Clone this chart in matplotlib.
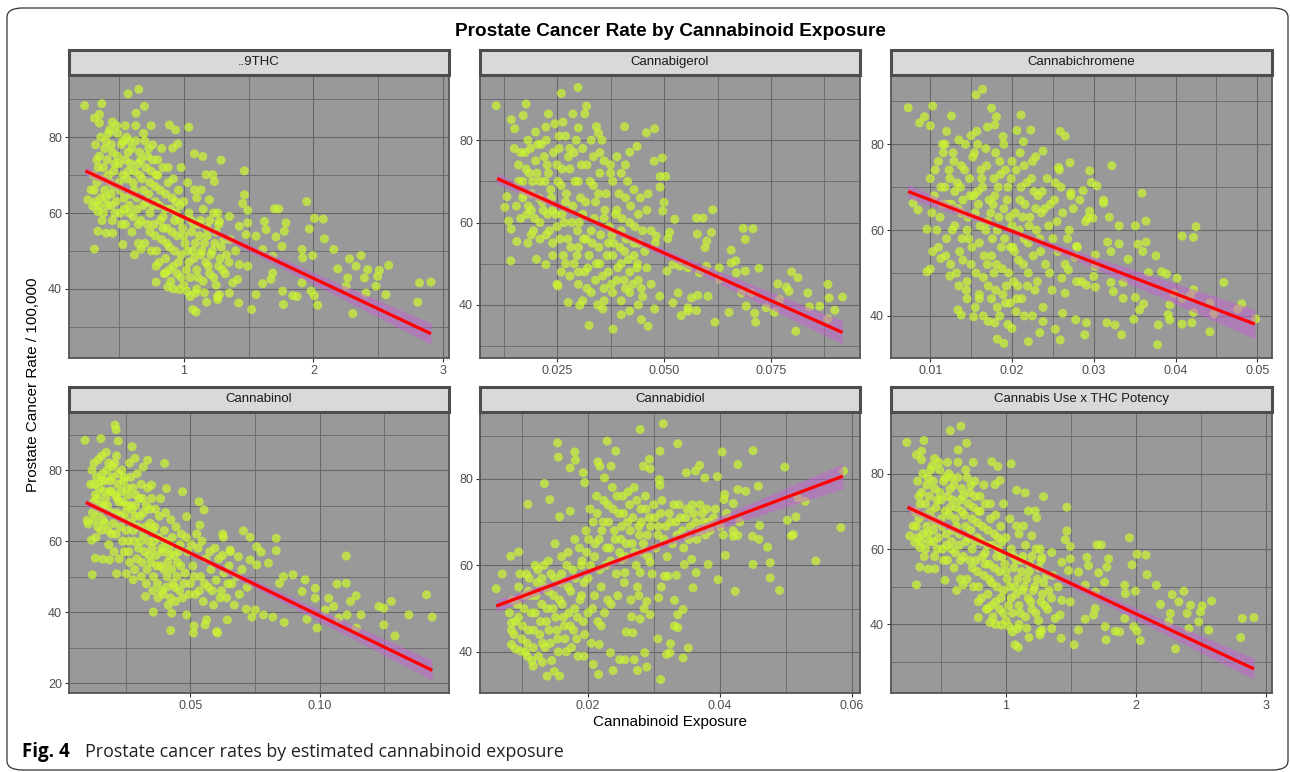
import numpy as np
import matplotlib.pyplot as plt
from matplotlib.patches import Rectangle, FancyBboxPatch

plt.rcParams['font.family'] = ['Liberation Sans', 'DejaVu Sans']

# ---- datos ----
paneles = ['..9THC', 'Cannabigerol', 'Cannabichromene',
           'Cannabinol', 'Cannabidiol', 'Cannabis Use x THC Potency']

thc_x = [0.236, 0.368, 0.571, 0.653, 0.697, 0.632, 0.311, 0.35, 0.483, 0.748, 0.89, 0.937, 1.039, 0.954, 0.915,
         1.082, 1.147, 1.288, 1.468, 1.172, 1.224, 1.236, 1.082, 1.134, 1.198, 1.468, 1.455, 1.494, 1.352, 1.262,
         1.275, 1.429, 1.494, 1.622, 1.699, 1.733, 1.789, 1.635, 1.712, 1.776, 1.558, 1.481, 1.949, 2.008, 2.077,
         1.969, 2.085, 2.157, 1.913, 1.995, 1.758, 1.609, 1.686, 1.918, 2.278, 2.368, 2.188, 2.329, 2.419, 2.509,
         2.581, 2.496, 2.265, 2.393, 2.483, 2.406, 2.56, 2.304, 2.805, 2.818, 2.907, 2.252, 2.033, 2.008, 1.982,
         1.913, 1.841, 1.874, 1.763, 1.769, 1.686, 1.673, 1.609, 1.558, 1.524, 1.424, 1.429, 1.494, 1.416, 1.378,
         1.352, 1.275, 1.262, 1.177, 1.095, 1.069, 1.09, 1.026, 0.967, 0.877, 0.787, 0.787, 0.859, 0.311, 0.337,
         0.401, 0.452, 0.53, 0.62, 0.671, 0.285, 0.26, 0.298, 0.337,
         0.32, 0.35, 0.38, 0.40, 0.42, 0.45, 0.47, 0.50, 0.52, 0.55, 0.57, 0.60, 0.62, 0.65, 0.68, 0.70, 0.72, 0.75,
         0.78, 0.80, 0.33, 0.36, 0.39, 0.41, 0.44, 0.48, 0.51, 0.54, 0.58, 0.61, 0.64, 0.67, 0.71, 0.74, 0.77, 0.81,
         0.84, 0.87, 0.90, 0.93, 0.36, 0.43, 0.49, 0.56, 0.63, 0.69, 0.76, 0.83, 0.88, 0.92, 0.96, 1.00, 1.04, 1.08,
         1.12, 0.98, 1.03, 1.10, 1.15, 1.20, 0.70, 0.74, 0.79, 0.83, 0.86, 0.89, 0.92, 0.95, 0.98, 1.01, 1.04, 1.07,
         1.10, 1.13, 1.16, 1.19, 1.22, 1.25, 1.28, 1.31, 0.85, 0.90, 0.95, 1.00, 1.05, 1.10, 1.15, 1.20, 1.25, 1.30,
         1.35, 1.40, 1.18, 1.23, 1.27, 0.60, 0.65, 0.55, 0.45, 0.38, 0.46, 0.53, 0.59, 0.66, 0.73, 0.79, 0.86, 0.34,
         0.41, 0.58, 0.50, 0.44, 0.62, 0.69, 0.76, 0.82, 0.94, 0.99, 1.06, 1.13]
thc_y = [88.3, 88.8, 91.4, 92.6, 88.1, 86.3, 85, 83.7, 83, 83, 83.2, 81.9, 82.6, 78.2, 77.1, 75.6, 74.9, 73.9, 71.1,
         70.1, 70.1, 68.3, 66.1, 66.1, 63.5, 64.8, 62.5, 60.7, 59.1, 60, 57.8, 56.5, 57.4, 57.8, 61.1, 61.1, 57.4,
         55.6, 53.7, 55.2, 53.9, 54.3, 63, 58.6, 58.4, 55.8, 53.2, 50.4, 50.4, 48.8, 51.2, 50.4, 48.6, 48.2, 47.9,
         48.8, 45.3, 46, 45.1, 44.9, 46.2, 43.3, 42.9, 42.9, 40.7, 38.9, 38.5, 33.5, 36.5, 41.6, 41.8, 40.7, 35.7,
         38.2, 39.4, 41.6, 38.2, 38, 39.4, 35.9, 44.2, 42.5, 41.4, 38.5, 34.6, 36.3, 46.4, 46, 42.5, 41.6, 38.9,
         38.5, 37.2, 36.5, 33.9, 34.6, 38.9, 39.4, 39.8, 40.5, 41.8, 46, 44.2, 50.5, 55.2, 54.7, 54.7, 51.7, 49,
         50.5, 66.1, 63.5, 61.8, 60.4,
         78, 75, 72, 79, 70, 76, 73, 68, 78, 74, 71, 77, 66, 73, 69, 79, 75, 71, 67, 74, 68, 64, 66, 62, 65, 63, 60,
         64, 62, 59, 61, 58, 63, 60, 57, 62, 59, 56, 61, 58, 80, 82, 81, 80, 83, 81, 78, 77, 72, 69, 66, 63, 60, 57,
         54, 72, 68, 64, 61, 58, 52, 55, 50, 53, 48, 51, 46, 54, 49, 52, 47, 50, 45, 49, 52, 46, 50, 55, 48, 53, 44,
         42, 44, 41, 43, 40, 42, 44, 41, 45, 47, 50, 56, 60, 57, 55, 52, 57, 58, 60, 67, 70, 65, 76, 65, 70, 65, 72,
         74, 79, 73, 78, 71, 62, 62, 58, 63, 56, 58, 58]
# nucleo denso (zona casi solida del grafico)
thc_x_nucleo = [0.30, 0.31, 0.33, 0.35, 0.37, 0.39, 0.40, 0.42, 0.43, 0.46, 0.47, 0.49, 0.51, 0.53, 0.54, 0.56,
                0.57, 0.59, 0.61, 0.63, 0.64, 0.66, 0.67, 0.69, 0.71, 0.73, 0.74, 0.76, 0.78, 0.80, 0.82, 0.84,
                0.86, 0.88, 0.91, 0.94, 0.97, 0.35, 0.45, 0.55, 0.32, 0.37, 0.44, 0.52, 0.58, 0.65,
                0.72, 0.75, 0.78, 0.81, 0.84, 0.87, 0.89, 0.91, 0.93, 0.96, 0.97, 1.00, 1.02, 1.03, 1.06, 1.08,
                1.09, 1.11, 1.12, 1.14, 1.17, 1.18, 1.21, 1.23, 1.24, 1.27, 1.29, 1.32, 1.33, 1.36, 0.92, 0.98,
                1.05, 1.16, 1.26]
thc_y_nucleo = [70, 66, 74, 62, 69, 77, 64, 81, 68, 71, 60, 75, 66, 79, 61, 69, 76, 73, 68, 79, 64, 70, 74, 66,
                72, 77, 68, 74, 63, 70, 66, 72, 61, 68, 64, 60, 62, 86, 84, 83, 63, 58, 62, 57, 60, 57,
                57, 50, 54, 47, 56, 52, 45, 55, 50, 47, 58, 54, 45, 50, 55, 48, 52, 43, 57, 50, 47, 54, 49, 43,
                52, 46, 51, 44, 49, 53, 40, 43, 38, 39, 38]

cbg_x = [0.0108, 0.0178, 0.026, 0.0299, 0.0319, 0.0315, 0.0287, 0.023, 0.0171, 0.0143, 0.0151, 0.0224, 0.0264,
         0.0342, 0.0347, 0.0408, 0.0459, 0.0478, 0.0437, 0.042, 0.0477, 0.0496, 0.0491, 0.0504, 0.0491, 0.0463,
         0.05, 0.0497, 0.0525, 0.0576, 0.0591, 0.0614, 0.0611, 0.0578, 0.06, 0.0596, 0.0513, 0.0509, 0.0482,
         0.0685, 0.0708, 0.069, 0.0657, 0.0668, 0.0657, 0.0722, 0.069, 0.0669, 0.0629, 0.0599, 0.0583, 0.0556,
         0.0537, 0.0521, 0.0507, 0.0798, 0.0813, 0.0766, 0.0786, 0.0792, 0.0836, 0.0883, 0.0886, 0.0917, 0.0899,
         0.0864, 0.084, 0.0883, 0.0808, 0.0758, 0.077, 0.0739, 0.0712, 0.0714, 0.0704, 0.0681, 0.0692, 0.0652,
         0.0619, 0.0629, 0.0603, 0.0579, 0.0564, 0.0556, 0.054, 0.0576, 0.0556, 0.0521, 0.0533, 0.049, 0.0478,
         0.0463, 0.0447, 0.042, 0.04, 0.0381, 0.0325, 0.0357, 0.0303, 0.0276, 0.0252, 0.0142, 0.0156, 0.0182,
         0.0202, 0.0224, 0.0133, 0.0137, 0.0143, 0.0128,
         0.015, 0.016, 0.017, 0.0175, 0.0185, 0.019, 0.02, 0.0205, 0.021, 0.0215, 0.022, 0.023, 0.0235, 0.024,
         0.025, 0.0255, 0.026, 0.027, 0.028, 0.0285, 0.029, 0.03, 0.0305, 0.031, 0.032, 0.033, 0.0335, 0.034,
         0.035, 0.036, 0.0365, 0.037, 0.038, 0.039, 0.04, 0.041, 0.042, 0.043, 0.044, 0.045, 0.0155, 0.0165,
         0.018, 0.0195, 0.021, 0.0225, 0.024, 0.025, 0.0265, 0.0275, 0.029, 0.03, 0.0315, 0.0325, 0.034, 0.035,
         0.036, 0.037, 0.038, 0.039, 0.04, 0.041, 0.042, 0.043, 0.044, 0.045, 0.046, 0.047, 0.03, 0.031, 0.033,
         0.028, 0.026, 0.025, 0.0345, 0.036, 0.038, 0.04, 0.042, 0.044, 0.017, 0.0182, 0.02, 0.0225, 0.0245,
         0.027, 0.0295, 0.031, 0.033, 0.035, 0.036, 0.0375, 0.039, 0.04, 0.0415, 0.043, 0.0445, 0.046, 0.047,
         0.048, 0.019, 0.0228, 0.0262, 0.0298, 0.0318, 0.0348, 0.0378, 0.0408, 0.0438, 0.0455]
cbg_y = [88.4, 88.8, 91.4, 92.8, 88.3, 86.4, 86.4, 86.4, 86, 85, 82.8, 83.2, 84.4, 83.3, 81.7, 83.3, 81.8, 82.8,
         78.5, 77.1, 74.9, 75.7, 71.2, 71.2, 68.6, 67, 64.9, 62.8, 60.8, 61.1, 61.1, 63.1, 57.6, 57.2, 55.5, 53.9,
         57.6, 56.1, 56.7, 58.6, 58.5, 55.9, 53.3, 50.7, 50.2, 48.9, 48.2, 47.8, 49, 49.4, 47.8, 49, 49.4, 49.8,
         48.2, 48, 46.6, 45.1, 44.3, 43.3, 42.9, 45, 41.7, 41.9, 38.7, 39.7, 39.5, 36.6, 33.6, 38.2, 41.3, 39.3,
         38, 35.8, 42.9, 42.9, 39.7, 38.2, 35.8, 46.2, 42.1, 42.3, 41.7, 39.3, 37.4, 38.6, 38.5, 40.5, 42.9, 42.1,
         39, 34.8, 36.4, 38.5, 37.6, 34.1, 35, 39, 39.9, 40.6, 44.6, 50.7, 55.4, 55, 51.1, 49.8, 66.3, 60.4, 58.4,
         63.7,
         78, 74, 70, 77, 72, 67, 75, 79, 70, 65, 76, 72, 68, 63, 74, 78, 69, 65, 73, 60, 77, 70, 66, 62, 74, 58, 69,
         65, 72, 61, 67, 55, 70, 63, 58, 66, 60, 55, 62, 58, 64, 61, 62, 58, 60, 57, 55, 59, 52, 56, 50, 54, 48, 52,
         46, 50, 44, 48, 52, 46, 50, 44, 48, 52, 46, 42, 49, 45, 45, 41, 43, 47, 48, 45, 40, 41, 43, 41, 43, 40, 66,
         80, 82, 80, 84, 81, 80, 78, 80, 77, 75, 74, 76, 72, 70, 68, 66, 63, 58, 55, 63, 62, 62, 58, 56, 54, 57, 53,
         50, 53]
cbg_x_nucleo = [0.016, 0.0165, 0.0172, 0.0178, 0.0183, 0.0188, 0.0193, 0.0198, 0.0203, 0.0208, 0.0213, 0.0218,
                0.0222, 0.0227, 0.0232, 0.0237, 0.0242, 0.0247, 0.0252, 0.0257, 0.0262, 0.0267, 0.0272, 0.0277,
                0.0282, 0.0287, 0.0292, 0.0297, 0.0302, 0.0307, 0.0312, 0.0317, 0.0322, 0.0327, 0.0332, 0.0337,
                0.0342, 0.0347, 0.0352, 0.0357, 0.0362, 0.0367, 0.0372, 0.0377, 0.0382, 0.0387, 0.0392, 0.0397,
                0.0402, 0.0407, 0.0412, 0.0417, 0.0422, 0.0427, 0.0432, 0.0437, 0.0442, 0.0447, 0.03, 0.032, 0.027,
                0.024, 0.021, 0.019, 0.028, 0.0255, 0.03, 0.0335, 0.0355, 0.0375, 0.0395, 0.041]
cbg_y_nucleo = [70, 77, 67, 73, 64, 78, 70, 61, 72, 66, 79, 63, 70, 74, 58, 66, 77, 62, 70, 56, 73, 60, 67, 76,
                54, 64, 70, 52, 60, 74, 56, 65, 49, 70, 55, 61, 50, 67, 57, 47, 63, 52, 59, 45, 55, 62, 49, 54,
                61, 46, 56, 51, 64, 45, 59, 49, 55, 44, 48, 44, 50, 52, 56, 57, 78, 81, 83, 76, 80, 72, 67, 74]

cbc_x = [0.0073, 0.0103, 0.0126, 0.0093, 0.0087, 0.01, 0.0156, 0.0164, 0.0175, 0.0181, 0.0179, 0.0211, 0.0206,
         0.0223, 0.0214, 0.0189, 0.0157, 0.0259, 0.0265, 0.0238, 0.0229, 0.0271, 0.0257, 0.0322, 0.0295, 0.0297,
         0.0304, 0.0272, 0.0287, 0.0312, 0.0312, 0.0283, 0.0295, 0.0299, 0.0293, 0.0319, 0.0359, 0.0364, 0.0351,
         0.0331, 0.0317, 0.0331, 0.0321, 0.0354, 0.0364, 0.036, 0.0342, 0.0376, 0.0408, 0.0422, 0.0425, 0.0279,
         0.0277, 0.0302, 0.0302, 0.03, 0.0269, 0.0261, 0.0279, 0.0291, 0.0302, 0.0265, 0.0321, 0.0336, 0.0324,
         0.0367, 0.0383, 0.0389, 0.0402, 0.0459, 0.0398, 0.0408, 0.0418, 0.0422, 0.0442, 0.0447, 0.0422, 0.0481,
         0.0476, 0.0498, 0.0393, 0.0391, 0.0393, 0.0379, 0.0408, 0.042, 0.0442, 0.0378, 0.0349, 0.0334, 0.0326,
         0.0316, 0.0356, 0.0361, 0.0351, 0.0336, 0.0291, 0.0289, 0.0278, 0.0262, 0.0259, 0.0253, 0.0234, 0.0238,
         0.022, 0.019, 0.0182, 0.0179, 0.0171, 0.0153, 0.0138, 0.0134, 0.02, 0.0096, 0.01, 0.0124, 0.0079, 0.0085,
         0.0096, 0.0103, 0.0113,
         0.01, 0.0105, 0.011, 0.0112, 0.0115, 0.0118, 0.012, 0.0123, 0.0126, 0.0128, 0.013, 0.0133, 0.0136, 0.0138,
         0.014, 0.0143, 0.0145, 0.0148, 0.015, 0.0152, 0.0155, 0.0158, 0.016, 0.0162, 0.0165, 0.0168, 0.017,
         0.0172, 0.0175, 0.0178, 0.018, 0.0182, 0.0185, 0.0188, 0.019, 0.0192, 0.0195, 0.0198, 0.02, 0.0202,
         0.0205, 0.0208, 0.021, 0.0212, 0.0215, 0.0218, 0.022, 0.0222, 0.0225, 0.0228, 0.023, 0.0232, 0.0235,
         0.0238, 0.024, 0.0243, 0.0246, 0.025, 0.0255, 0.026, 0.0265, 0.027, 0.0275, 0.028, 0.0285, 0.029, 0.0125,
         0.0135, 0.0145, 0.0155, 0.0165, 0.0175, 0.0185, 0.0195, 0.0205, 0.0215, 0.0225, 0.011, 0.0115, 0.013,
         0.0138, 0.0147, 0.0153, 0.0163, 0.0168, 0.0177, 0.0183, 0.0192, 0.0197, 0.0203, 0.0213, 0.022, 0.0227,
         0.0236, 0.0247, 0.0253, 0.0258, 0.0272, 0.012, 0.015, 0.017, 0.019, 0.021, 0.0145, 0.016, 0.0178,
         0.0193, 0.0207, 0.017, 0.0187]
cbc_y = [88.5, 88.9, 86.6, 86.4, 85, 84.3, 91.5, 92.8, 88.4, 86.4, 84.5, 86.8, 83.2, 83.3, 80.6, 81.8, 83, 83,
         81.9, 78.4, 77.1, 75.7, 74.6, 75, 73.8, 71.1, 70.3, 68.7, 69.2, 67, 66.3, 67, 64.4, 62.8, 62.8, 63, 68.6,
         62.1, 61, 61, 57.2, 56.8, 55, 56.7, 57.2, 55, 53.2, 54, 58.6, 58.3, 60.8, 56.2, 53.7, 54.2, 51.5, 49.2,
         50.7, 48.8, 48, 47.2, 46.7, 45.3, 47.8, 47.8, 45.7, 50.1, 50.3, 49.8, 48.8, 47.8, 45.3, 44.1, 44.7, 46.1,
         43, 40.5, 40.8, 42.8, 41.6, 39.3, 42.6, 40.3, 39.1, 37.9, 38.1, 38.4, 36.3, 33.3, 39.2, 35.6, 37.9, 38.4,
         41.4, 42.8, 44.3, 44.1, 38.4, 35.6, 39.1, 40.6, 34.4, 36.9, 36.1, 38.7, 34, 33.6, 34.6, 38.4, 38.7, 39.8,
         40.2, 41.4, 37.1, 50.3, 50.9, 49.3, 66.3, 64.7, 60.2, 55, 53.4,
         72, 68, 76, 63, 80, 70, 58, 74, 66, 78, 61, 71, 55, 75, 67, 80, 60, 72, 52, 77, 64, 69, 57, 74, 49, 79, 62,
         67, 54, 72, 46, 60, 76, 51, 65, 43, 70, 56, 61, 48, 74, 53, 67, 44, 58, 71, 50, 63, 76, 46, 60, 68, 55, 42,
         65, 72, 50, 58, 62, 70, 52, 60, 65, 56, 48, 62, 52, 47, 44, 42, 40, 44, 40, 38, 41, 40, 40, 56, 66, 69, 64,
         58, 68, 72, 60, 66, 70, 74, 63, 55, 63, 57, 69, 64, 66, 71, 74, 68, 83, 82, 84, 80, 78, 48, 45, 50, 47, 47,
         52, 56]
cbc_x_nucleo = [0.0102, 0.0106, 0.0108, 0.0113, 0.0116, 0.0119, 0.0121, 0.0124, 0.0127, 0.0129, 0.0132, 0.0134,
                0.0137, 0.0139, 0.0142, 0.0144, 0.0146, 0.0149, 0.0151, 0.0154, 0.0156, 0.0159, 0.0161, 0.0164,
                0.0166, 0.0169, 0.0171, 0.0174, 0.0176, 0.0179, 0.0181, 0.0184, 0.0186, 0.0189, 0.0191, 0.0194,
                0.0196, 0.0199, 0.0201, 0.0204, 0.0206, 0.0209, 0.0211, 0.0214, 0.0216, 0.0219, 0.0221, 0.0224,
                0.0226, 0.0229, 0.0231, 0.0234, 0.0237, 0.0241, 0.0245, 0.0249, 0.0252, 0.0256, 0.0262, 0.0268,
                0.0118, 0.0135, 0.0158, 0.018, 0.02, 0.0215, 0.016, 0.0182, 0.0198, 0.014]
cbc_y_nucleo = [64, 74, 60, 70, 78, 54, 66, 72, 60, 76, 50, 65, 70, 58, 74, 46, 63, 68, 56, 78, 50, 66, 61, 70,
                54, 75, 47, 64, 58, 68, 52, 63, 73, 45, 58, 67, 50, 72, 56, 64, 44, 60, 70, 52, 66, 47, 61, 72,
                54, 65, 48, 58, 69, 52, 61, 46, 67, 55, 64, 58, 80, 81, 80, 78, 76, 75, 44, 42, 43, 53]

cbn_x = [0.0093, 0.0154, 0.0209, 0.0213, 0.0221, 0.0275, 0.0286, 0.0335, 0.0401, 0.0318, 0.035, 0.0408, 0.047,
         0.0534, 0.0553, 0.0486, 0.0537, 0.0625, 0.0628, 0.0705, 0.0731, 0.0832, 0.0832, 0.0757, 0.0774, 0.0802,
         0.0757, 0.0731, 0.0654, 0.0686, 0.086, 0.0897, 0.0845, 0.0944, 0.0932, 0.0983, 0.1103, 0.1067, 0.1103,
         0.1141, 0.1119, 0.1035, 0.1054, 0.1022, 0.0983, 0.0951, 0.099, 0.1074, 0.1106, 0.116, 0.1142, 0.1229,
         0.1248, 0.1277, 0.1248, 0.1291, 0.1345, 0.1413, 0.1435, 0.0863, 0.0819, 0.0783, 0.0738, 0.0751, 0.0716,
         0.0643, 0.0602, 0.0605, 0.0563, 0.0557, 0.0514, 0.0512, 0.0486, 0.0424, 0.0428, 0.0357, 0.0327, 0.0215,
         0.0253, 0.0279, 0.0121, 0.0133, 0.0162, 0.0188, 0.0118, 0.0101, 0.0105,
         0.012, 0.013, 0.014, 0.0145, 0.015, 0.016, 0.0165, 0.017, 0.0175, 0.018, 0.019, 0.0195, 0.02, 0.021,
         0.0215, 0.022, 0.023, 0.0235, 0.024, 0.025, 0.0255, 0.026, 0.027, 0.0275, 0.028, 0.029, 0.03, 0.0305,
         0.031, 0.032, 0.033, 0.034, 0.0345, 0.035, 0.036, 0.037, 0.038, 0.039, 0.04, 0.041, 0.042, 0.043, 0.044,
         0.045, 0.046, 0.047, 0.048, 0.049, 0.05, 0.051, 0.052, 0.053, 0.054, 0.055, 0.056, 0.057, 0.058, 0.059,
         0.06, 0.061, 0.062, 0.063, 0.064, 0.065, 0.066, 0.067, 0.068, 0.069, 0.07, 0.072, 0.013, 0.0125, 0.0135,
         0.0155, 0.0185, 0.0205, 0.0225, 0.0245, 0.0265, 0.0285, 0.031, 0.033, 0.0355, 0.0375, 0.0395, 0.0415,
         0.0155, 0.0185, 0.0215, 0.0245, 0.0265, 0.0295, 0.0315, 0.0335, 0.0365, 0.0385, 0.0405, 0.0425, 0.0445,
         0.0465, 0.0485, 0.0505, 0.0525, 0.0545, 0.0575, 0.0595, 0.0625, 0.0655, 0.0165, 0.0195, 0.0225, 0.0255,
         0.0285, 0.0355]
cbn_y = [88.4, 88.9, 92.7, 91.4, 88.2, 86.6, 83.3, 82.8, 81.9, 80.9, 75.8, 74.8, 73.9, 71.1, 68.8, 66.9, 64.5, 62,
         61.1, 62.9, 61.1, 60.8, 57.3, 58.4, 56.9, 53.8, 53.3, 54.7, 57.5, 55.6, 50, 50.5, 48.1, 49.1, 45.8, 46.7,
         55.8, 47.9, 48.1, 44.6, 43, 43.9, 41.6, 40.6, 43.9, 38, 35.5, 38.3, 39.2, 39.2, 35.5, 41.6, 41.1, 43, 36.4,
         33.3, 39.2, 44.9, 38.6, 37.1, 38.6, 39.2, 38.6, 40.6, 40.8, 37.8, 34.5, 34.1, 37.8, 36.4, 36.1, 34.1, 39.2,
         34.8, 39.7, 40, 44.4, 50.8, 50.8, 49.1, 50.5, 55.2, 54.9, 54.7, 60.3, 65.9, 64.8,
         80, 76, 72, 83, 68, 79, 74, 65, 85, 70, 77, 62, 81, 73, 68, 76, 64, 80, 71, 66, 75, 60, 78, 69, 63, 73, 58,
         67, 76, 62, 70, 56, 65, 72, 60, 53, 67, 58, 63, 50, 56, 61, 47, 54, 59, 44, 51, 57, 48, 53, 45, 58, 50, 43,
         55, 47, 52, 42, 49, 55, 46, 51, 44, 53, 48, 42, 50, 45, 52, 47, 66, 71, 61, 63, 59, 57, 55, 57, 54, 52, 50,
         48, 46, 44, 45, 42, 77, 82, 84, 78, 82, 79, 72, 75, 69, 72, 68, 66, 64, 62, 61, 59, 62, 60, 57, 58, 56, 57,
         70, 74, 71, 70, 67, 63]
cbn_x_nucleo = [0.0115, 0.0122, 0.0128, 0.0133, 0.0138, 0.0142, 0.0148, 0.0153, 0.0158, 0.0162, 0.0168, 0.0173,
                0.0178, 0.0182, 0.0188, 0.0193, 0.0198, 0.0203, 0.0208, 0.0213, 0.0218, 0.0222, 0.0228, 0.0233,
                0.0238, 0.0242, 0.0248, 0.0253, 0.0258, 0.0262, 0.0268, 0.0273, 0.0278, 0.0282, 0.0288, 0.0293,
                0.0298, 0.0303, 0.0308, 0.0313, 0.0318, 0.0323, 0.0328, 0.0333, 0.0338, 0.0343, 0.0348, 0.0353,
                0.0358, 0.0363, 0.0368, 0.0373, 0.0378, 0.0383, 0.0388, 0.0393, 0.0398, 0.0403, 0.0408, 0.0413,
                0.0418, 0.0423, 0.0428, 0.0433, 0.0438, 0.0443, 0.0448, 0.0453, 0.0458, 0.0463, 0.0475, 0.0495,
                0.0515, 0.0535, 0.0555, 0.0585, 0.0615, 0.0645]
cbn_y_nucleo = [76, 68, 82, 73, 78, 64, 75, 70, 84, 66, 77, 72, 80, 63, 74, 68, 78, 65, 82, 62, 72, 79, 67, 74,
                60, 77, 68, 63, 73, 57, 70, 65, 75, 60, 70, 55, 64, 72, 60, 54, 68, 57, 64, 52, 60, 69, 54, 58,
                50, 64, 56, 48, 61, 53, 46, 57, 52, 60, 47, 54, 58, 44, 52, 48, 56, 43, 50, 57, 46, 53, 48, 45,
                50, 46, 48, 46, 44, 48]

cbd_x = [0.0061, 0.007, 0.0083, 0.0095, 0.0109, 0.0134, 0.0142, 0.0154, 0.0155, 0.0173, 0.018, 0.0181, 0.0157,
         0.0173, 0.0193, 0.0195, 0.0215, 0.0218, 0.0225, 0.0229, 0.0235, 0.0242, 0.0279, 0.0314, 0.0309, 0.0336,
         0.0284, 0.0294, 0.0293, 0.0308, 0.0309, 0.0349, 0.0363, 0.0369, 0.0377, 0.0396, 0.0403, 0.0427, 0.045,
         0.0498, 0.0458, 0.0427, 0.0439, 0.0407, 0.0406, 0.042, 0.0529, 0.0518, 0.0502, 0.0515, 0.0583, 0.0587,
         0.0508, 0.0511, 0.0545, 0.0459, 0.0472, 0.046, 0.0449, 0.0427, 0.042, 0.0476, 0.0476, 0.049, 0.045,
         0.0408, 0.0423, 0.0397, 0.0382, 0.0364, 0.0357, 0.0359, 0.0346, 0.0334, 0.0331, 0.0344, 0.0336, 0.0336,
         0.0331, 0.0352, 0.0344, 0.0324, 0.0319, 0.0325, 0.0306, 0.0311, 0.0307, 0.031, 0.0289, 0.0275, 0.0286,
         0.027, 0.0256, 0.0248, 0.0238, 0.0234, 0.0216, 0.0208, 0.0194, 0.0217, 0.0157, 0.0149, 0.0138, 0.0131,
         0.0117, 0.0108, 0.0084, 0.009, 0.0098, 0.0084, 0.0084, 0.0081, 0.0251, 0.0277, 0.0289, 0.0266, 0.0279,
         0.0258, 0.0268, 0.0294, 0.0316, 0.0321, 0.0256, 0.0279, 0.0294,
         0.0085, 0.009, 0.0095, 0.01, 0.0103, 0.0107, 0.011, 0.0113, 0.0117, 0.012, 0.0123, 0.0127, 0.013, 0.0133,
         0.0137, 0.014, 0.0143, 0.0147, 0.015, 0.0153, 0.0157, 0.016, 0.0163, 0.0167, 0.017, 0.0173, 0.0177,
         0.018, 0.0183, 0.0187, 0.019, 0.0193, 0.0197, 0.02, 0.0203, 0.0207, 0.021, 0.0213, 0.0217, 0.022, 0.0223,
         0.0227, 0.023, 0.0233, 0.0237, 0.024, 0.0243, 0.0247, 0.025, 0.0253, 0.0257, 0.026, 0.0263, 0.0267,
         0.027, 0.0273, 0.0277, 0.028, 0.0283, 0.0287, 0.029, 0.0293, 0.0297, 0.03, 0.0303, 0.0307, 0.031,
         0.0315, 0.032, 0.0325, 0.033, 0.0335, 0.034, 0.0345, 0.035, 0.0355, 0.036, 0.0365, 0.037, 0.0375, 0.038,
         0.0385, 0.039, 0.04, 0.041, 0.042, 0.043, 0.0095, 0.0105, 0.0115, 0.0125, 0.0135, 0.0145, 0.0155, 0.0165,
         0.0175, 0.0185, 0.0195, 0.0205, 0.0215, 0.0225, 0.0235, 0.0245, 0.0255, 0.0265, 0.0275, 0.0285, 0.018,
         0.019, 0.017, 0.016, 0.015, 0.014, 0.013, 0.012, 0.011, 0.02, 0.021, 0.022, 0.023]
cbd_y = [54.6, 58, 62.1, 63.1, 74.1, 78.9, 75.2, 88.3, 85, 82.5, 86.2, 84.3, 71.2, 72.5, 81.4, 79.1, 83.9, 82.9,
         80.2, 88.7, 82.9, 86.4, 91.4, 92.7, 86.4, 88.1, 82.9, 82.3, 84.5, 79.8, 78.5, 81.4, 81.8, 83.1, 80.2, 80.5,
         86.2, 83.3, 86.5, 82.7, 78.3, 77.5, 77.1, 76.4, 75.2, 74.3, 74.8, 75.6, 70.4, 71.2, 68.7, 81.8, 66.8, 67.1,
         61, 66, 64.2, 69.2, 66.7, 66.9, 66.7, 60.6, 57.1, 54.2, 60.2, 62.3, 54, 56.7, 60.2, 58.3, 61.4, 54.8, 60.2,
         57.7, 51.9, 49.8, 48.6, 45.6, 46, 40.9, 38.6, 39.8, 39.4, 41.9, 43, 55, 52.5, 33.6, 36.5, 35.7, 39.8, 38.2,
         38.2, 38.2, 35.7, 39.8, 34.8, 37.1, 39, 41.7, 34.4, 35.5, 34.4, 37.6, 36.7, 39, 41.7, 40.7, 40.2, 45, 46.7,
         49, 61.4, 53, 51.7, 48.1, 47.6, 44.6, 44.4, 48.6, 57.5, 57.5, 58.3, 58.3, 60.7,
         52, 47, 55, 43, 50, 58, 45, 53, 41, 49, 56, 44, 51, 60, 47, 54, 42, 50, 57, 45, 52, 62, 48, 40, 55, 46, 59,
         50, 43, 64, 53, 47, 68, 57, 73, 50, 62, 76, 66, 55, 70, 60, 74, 64, 78, 68, 58, 72, 66, 76, 62, 70, 74, 65,
         78, 60, 69, 73, 63, 76, 67, 71, 58, 74, 64, 69, 72, 66, 62, 70, 74, 67, 71, 64, 73, 69, 72, 66, 74, 70, 73,
         68, 71, 69, 72, 68, 70, 48, 40, 38, 39, 41, 38, 40, 43, 41, 39, 44, 42, 47, 49, 51, 53, 56, 52, 55, 50, 66,
         60, 63, 58, 65, 61, 57, 60, 54, 49, 53, 46, 52]
cbd_x_nucleo = [0.0088, 0.0093, 0.0097, 0.0101, 0.0104, 0.0108, 0.0111, 0.0114, 0.0118, 0.0121, 0.0124, 0.0128,
                0.0131, 0.0134, 0.0138, 0.0141, 0.0144, 0.0148, 0.0151, 0.0154, 0.0158, 0.0161, 0.0164, 0.0168,
                0.0171, 0.0174, 0.0178, 0.0181, 0.0184, 0.0188, 0.0191, 0.0194, 0.0198, 0.0201, 0.0204, 0.0208,
                0.0211, 0.0214, 0.0218, 0.0221, 0.0224, 0.0228, 0.0231, 0.0234, 0.0238, 0.0241, 0.0244, 0.0248,
                0.0251, 0.0254, 0.0258, 0.0261, 0.0264, 0.0268, 0.0271, 0.0274, 0.0278, 0.0281, 0.0284, 0.0288,
                0.0291, 0.0295, 0.0301, 0.0306, 0.0312, 0.0318, 0.0323, 0.0328, 0.0333, 0.0338, 0.0343, 0.0348,
                0.0353, 0.0358, 0.0363, 0.0368, 0.0373, 0.0378, 0.0383, 0.0393, 0.0405]
cbd_y_nucleo = [44, 51, 58, 46, 53, 42, 57, 49, 45, 53, 59, 47, 42, 55, 50, 45, 58, 53, 48, 43, 56, 51, 46, 60,
                49, 54, 45, 57, 48, 52, 61, 56, 63, 66, 60, 70, 65, 72, 59, 68, 75, 64, 70, 61, 73, 66, 76, 63,
                69, 72, 65, 77, 68, 71, 63, 75, 67, 70, 65, 73, 62, 69, 71, 67, 75, 69, 72, 65, 70, 74, 68, 71,
                66, 74, 70, 68, 72, 67, 70, 73, 67]

fit_x0 = [0.242, 0.0110, 0.0073, 0.0096, 0.0061, 0.242]
fit_x1 = [2.907, 0.0917, 0.0497, 0.1435, 0.0586, 2.907]
fit_y0 = [71.1, 70.7, 69.0, 70.9, 50.6, 71.1]
fit_y1 = [28.2, 33.3, 38.1, 23.6, 80.6, 28.2]
banda = [[1.2, 0.5, 1.0, 1.9, 2.8],
         [1.3, 0.5, 1.0, 1.9, 2.8],
         [1.6, 0.5, 1.2, 2.3, 3.4],
         [1.0, 0.5, 1.1, 1.9, 2.8],
         [1.4, 0.6, 0.8, 1.8, 2.9],
         [1.2, 0.5, 1.0, 1.9, 2.8]]

xlims = [(0.115, 3.046), (0.007, 0.0958), (0.0052, 0.0518), (0.0031, 0.150), (0.00364, 0.0612), (0.115, 3.046)]
ylims = [(21.8, 96.1), (27.1, 95.6), (30.2, 95.9), (17.2, 96.1), (30.5, 95.2), (21.8, 96.1)]
xticks = [[1, 2, 3], [0.025, 0.05, 0.075], [0.01, 0.02, 0.03, 0.04, 0.05], [0.05, 0.10], [0.02, 0.04, 0.06], [1, 2, 3]]
xticklabels = [['1', '2', '3'], ['0.025', '0.050', '0.075'], ['0.01', '0.02', '0.03', '0.04', '0.05'],
               ['0.05', '0.10'], ['0.02', '0.04', '0.06'], ['1', '2', '3']]
xminor = [[0.5, 1.5, 2.5], [0.0125, 0.0375, 0.0625, 0.0875], [0.015, 0.025, 0.035, 0.045],
          [0.025, 0.075, 0.125], [0.01, 0.03, 0.05], [0.5, 1.5, 2.5]]
yticks = [[40, 60, 80], [40, 60, 80], [40, 60, 80], [20, 40, 60, 80], [40, 60, 80], [40, 60, 80]]
yminor = [[30, 50, 70, 90], [30, 50, 70, 90], [50, 70, 90], [30, 50, 70, 90], [50, 70, 90], [30, 50, 70, 90]]

datos = [(thc_x + thc_x_nucleo, thc_y + thc_y_nucleo),
         (cbg_x + cbg_x_nucleo, cbg_y + cbg_y_nucleo),
         (cbc_x + cbc_x_nucleo, cbc_y + cbc_y_nucleo),
         (cbn_x + cbn_x_nucleo, cbn_y + cbn_y_nucleo),
         (cbd_x + cbd_x_nucleo, cbd_y + cbd_y_nucleo),
         (thc_x + thc_x_nucleo, thc_y + thc_y_nucleo)]

# ---- figura ----
fig = plt.figure(figsize=(12.9, 7.72), dpi=100)
W, H = 1290, 772

# marco redondeado de la figura
marco = FancyBboxPatch((7 / W, 2 / H), 1281 / W, 762 / H, boxstyle='round,pad=0,rounding_size=0.012',
                       transform=fig.transFigure, fill=False, ec='#333333', lw=0.9)
fig.patches.append(marco)

lefts = [69, 480, 891]
widths = [380, 380, 381]
tops = [76, 413]
heights = [282, 280]

for i in range(6):
    fila, col = divmod(i, 3)
    l = lefts[col] / W
    b = 1 - (tops[fila] + heights[fila]) / H
    ax = fig.add_axes([l, b, widths[col] / W, heights[fila] / H])
    ax.set_facecolor('#999999')
    x, y = datos[i]
    ax.scatter(x, y, s=42, color='#ccf532', alpha=0.72, edgecolors='none', zorder=2)

    xs = np.linspace(fit_x0[i], fit_x1[i], 5)
    ys = np.interp(xs, [fit_x0[i], fit_x1[i]], [fit_y0[i], fit_y1[i]])
    xf = np.linspace(fit_x0[i], fit_x1[i], 60)
    yf = np.interp(xf, xs, ys)
    hw = np.interp(xf, xs, banda[i])
    ax.fill_between(xf, yf - hw, yf + hw, color='#c462d4', alpha=0.5, lw=0, zorder=3)
    ax.plot(xf, yf, color='#ff0000', lw=2.3, zorder=4, solid_capstyle='butt')

    ax.set_xlim(xlims[i])
    ax.set_ylim(ylims[i])
    ax.set_xticks(xticks[i])
    ax.set_xticklabels(xticklabels[i])
    ax.set_xticks(xminor[i], minor=True)
    ax.set_yticks(yticks[i])
    ax.set_yticks(yminor[i], minor=True)
    ax.grid(which='major', color='#676767', lw=0.8, zorder=1)
    ax.grid(which='minor', color='#676767', lw=0.6, zorder=1)
    ax.set_axisbelow(True)
    ax.tick_params(which='major', length=3, width=0.8, color='#333333', labelsize=9,
                   labelcolor='#4d4d4d', pad=2)
    ax.tick_params(which='minor', length=0)
    for sp in ax.spines.values():
        sp.set_color('#555555')
        sp.set_linewidth(1.3)

    # tira del titulo de cada panel
    alto = 25 / heights[fila]
    ax.add_patch(Rectangle((0, 1.005), 1, alto, transform=ax.transAxes, clip_on=False,
                           fc='#d9d9d9', ec='#4d4d4d', lw=2.2, zorder=5))
    ax.text(0.5, 1.005 + alto / 2, paneles[i], transform=ax.transAxes, ha='center', va='center',
            fontsize=9.5, color='#1a1a1a', zorder=6)

fig.text(670 / W, 1 - 32 / H, 'Prostate Cancer Rate by Cannabinoid Exposure', ha='center', va='center',
         fontsize=13.7, fontweight='bold')
fig.text(670 / W, 1 - 722 / H, 'Cannabinoid Exposure', ha='center', va='center', fontsize=11)
fig.text(33 / W, 1 - 385 / H, 'Prostate Cancer Rate / 100,000', ha='center', va='center',
         rotation=90, fontsize=11)

fig.text(22 / W, 1 - 752 / H, 'Fig. 4', ha='left', va='center', fontsize=13.5, fontweight='bold',
         family=['Open Sans', 'DejaVu Sans'])
fig.text(85 / W, 1 - 752 / H, 'Prostate cancer rates by estimated cannabinoid exposure', ha='left',
         va='center', fontsize=12.9, family=['Open Sans', 'DejaVu Sans'], color='#222222')

plt.savefig('out.png', dpi=100)
